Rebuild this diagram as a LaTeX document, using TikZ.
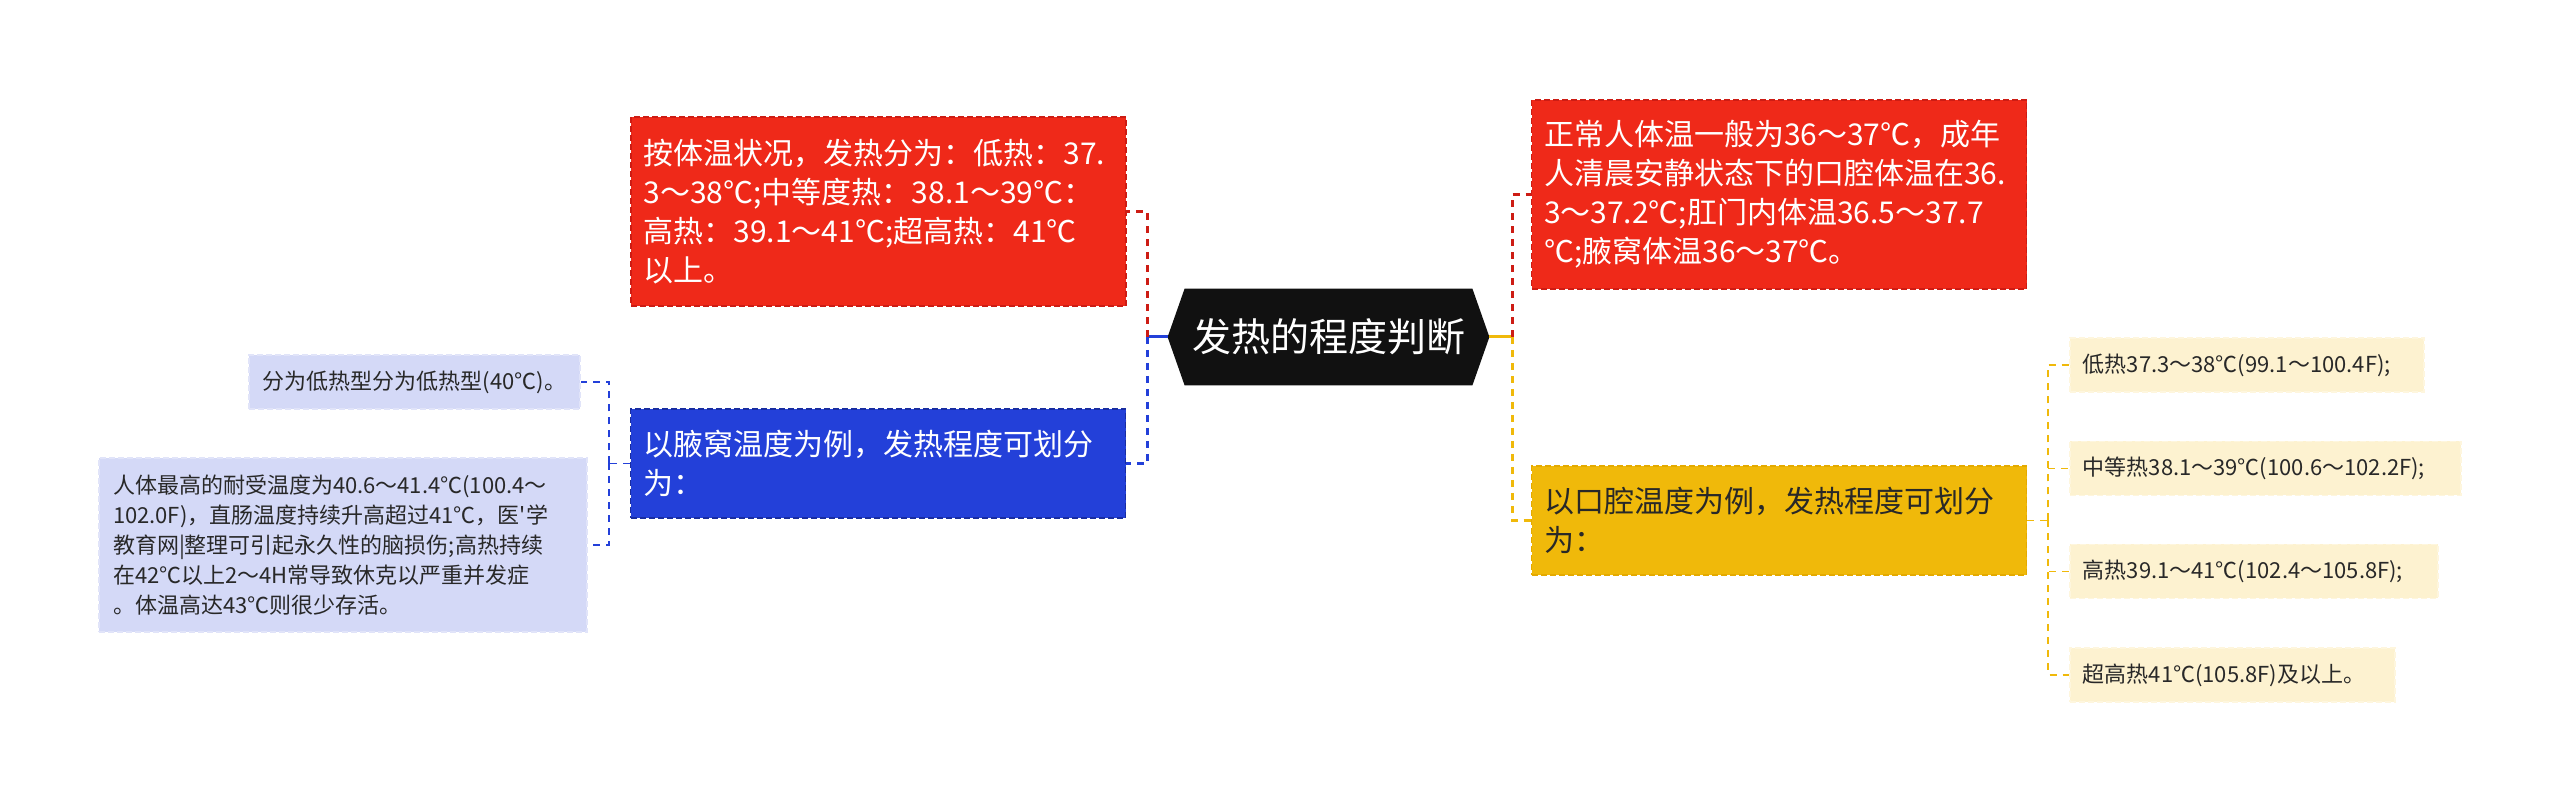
\documentclass[tikz,border=0pt]{standalone}
\usepackage{fontspec}
\setmainfont{Noto Sans CJK SC}[Ligatures=TeXOff]
\usepackage{tikz}
\usetikzlibrary{positioning, calc, backgrounds}
\definecolor{fevred}        {RGB}{239,  41,  25}
\definecolor{fevredline}    {RGB}{205,  28,  20}
\definecolor{fevblue}       {RGB}{ 35,  64, 217}
\definecolor{fevblueline}   {RGB}{ 25,  45, 160}
\definecolor{fevyellow}     {RGB}{240, 185,  10}
\definecolor{fevyellowline} {RGB}{228, 170,   0}
\definecolor{fevpaleblue}   {RGB}{212, 217, 247}
\definecolor{fevpaleyellow} {RGB}{253, 242, 208}
\definecolor{fevblack}      {RGB}{ 17,  17,  17}
\definecolor{fevtext}       {RGB}{ 40,  40,  40}

\begin{document}
\begin{tikzpicture}[x=0.5pt,y=-0.5pt,
	bigbox/.style={rectangle,draw,line width=0.8pt,dash pattern=on 3pt off 1.5pt,
		text width=235pt,align=left,inner xsep=6.25pt,inner ysep=0pt,
		minimum width=247.5pt,font=\fontsize{15pt}{19.5pt}\selectfont},
	paleblue/.style={rectangle,fill=fevpaleblue,draw=fevpaleblue!70!white,line width=0.8pt,
		dash pattern=on 3pt off 1.5pt,text=fevtext,inner xsep=7pt,inner ysep=0pt,
		minimum height=27pt,font=\fontsize{11pt}{15pt}\selectfont},
	paleyellow/.style={rectangle,fill=fevpaleyellow,draw=fevpaleyellow!70!white,line width=0.8pt,
		dash pattern=on 3pt off 1.5pt,text=fevtext,inner xsep=6.5pt,inner ysep=0pt,
		text width=#1,align=left,minimum height=27pt,anchor=west,font=\fontsize{11pt}{15pt}\selectfont},
	mainlink/.style={line width=1.5pt,dash pattern=on 3.5pt off 3pt},
	sublink/.style={line width=0.9pt,dash pattern=on 3.5pt off 3pt}
]
	\useasboundingbox (0,0) rectangle (2560,801);
	% centre
	\node[text=white,minimum width=160.5pt,minimum height=48pt,inner sep=0pt,
		font=\fontsize{19.5pt}{23pt}\selectfont] (root) at (1328.5,337) {发热的程度判断};
	\begin{scope}[on background layer]
		\fill[fevblack] (root.west) -- ([xshift=8.5pt]root.north west) -- ([xshift=-8.5pt]root.north east)
			-- (root.east) -- ([xshift=-8.5pt]root.south east) -- ([xshift=8.5pt]root.south west) -- cycle;
	\end{scope}
	% left
	\node[bigbox,fill=fevred,draw=fevredline,text=white,minimum height=94.5pt] (lred) at (878.5,211.5)
		{按体温状况，发热分为：低热：37.\\3～38℃;中等度热：38.1～39℃：\\高热：39.1～41℃;超高热：41℃\\以上。};
	\node[bigbox,fill=fevblue,draw=fevblueline,text=white,minimum height=54.5pt] (lblue) at (878,463.5)
		{以腋窝温度为例，发热程度可划分\\为：};
	\node[paleblue] (bs1) at (414.5,382) {分为低热型分为低热型(40℃)。};
	\node[paleblue,text width=230pt,align=left,minimum height=87pt] (bs2) at (343,545)
		{人体最高的耐受温度为40.6～41.4℃(100.4～\\102.0F)，直肠温度持续升高超过41℃，医'学\\教育网|整理可引起永久性的脑损伤;高热持续\\在42℃以上2～4H常导致休克以严重并发症\\。体温高达43℃则很少存活。};
	% right
	\node[bigbox,fill=fevred,draw=fevredline,text=white,minimum height=94.5pt] (rred) at (1779,194.5)
		{正常人体温一般为36～37℃，成年\\人清晨安静状态下的口腔体温在36.\\3～37.2℃;肛门内体温36.5～37.7\\℃;腋窝体温36～37℃。};
	\node[bigbox,fill=fevyellow,draw=fevyellowline,text=fevtext,minimum height=54.5pt] (ryellow) at (1779,520.5)
		{以口腔温度为例，发热程度可划分\\为：};
	\node[paleyellow=164pt] (ys1) at (2069,365) {低热37.3～38℃(99.1～100.4F);};
	\node[paleyellow=182.5pt] (ys2) at (2069,468.5) {中等热38.1～39℃(100.6～102.2F);};
	\node[paleyellow=171pt] (ys3) at (2069,571.5) {高热39.1～41℃(102.4～105.8F);};
	\node[paleyellow=149.5pt] (ys4) at (2069,675) {超高热41℃(105.8F)及以上。};
	% links
	\coordinate (ljoint) at (1147,337);
	\coordinate (rjoint) at (1512,337);
	\coordinate (bjoint) at (609,463.5);
	\coordinate (yjoint) at (2048,520.5);
	\draw[fevblue,line width=1.5pt] (root.west) -- (ljoint);
	\draw[fevyellow,line width=1.5pt] (root.east) -- (rjoint);
	\draw[mainlink,fevredline] (ljoint) |- (lred.east);
	\draw[mainlink,fevblue] (ljoint) |- (lblue.east);
	\draw[mainlink,fevredline] (rjoint) |- (rred.west);
	\draw[mainlink,fevyellow] (rjoint) |- (ryellow.west);
	\draw[sublink,fevblue] (lblue.west) -- (bjoint);
	\foreach \i in {1,2}
		\draw[sublink,fevblue] (bjoint) |- (bs\i.east);
	\draw[sublink,fevyellow] (ryellow.east) -- (yjoint);
	\foreach \i in {1,...,4}
		\draw[sublink,fevyellow] (yjoint) |- (ys\i.west);
\end{tikzpicture}
\end{document}
